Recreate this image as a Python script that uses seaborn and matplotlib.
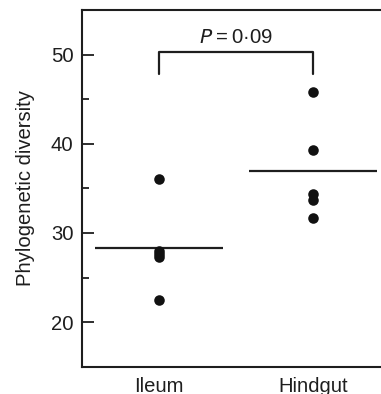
import pandas as pd
import seaborn as sns
import matplotlib.pyplot as plt
from matplotlib.ticker import MultipleLocator

# values
groups = ['Ileum', 'Hindgut']
ileum = [36.1, 28.0, 27.6, 27.3, 22.5]
hindgut = [45.8, 39.3, 34.4, 33.7, 31.7]
p_label = '0·09'
y_ticks = [20, 30, 40, 50]

df = pd.DataFrame({
    'site': [groups[0]] * len(ileum) + [groups[1]] * len(hindgut),
    'pd': ileum + hindgut,
})

sns.set_style('ticks')
plt.rcParams['font.family'] = ['Liberation Sans', 'DejaVu Sans']
ink = '#1e1e1e'
fs = 14.6

fig = plt.figure(figsize=(3.81, 3.94), dpi=100)
ax = fig.add_axes([0.2144, 0.0693, 0.81, 0.9053])

sns.stripplot(data=df, x='site', y='pd', order=groups, jitter=False,
              color='#111111', size=7.6, ax=ax)
# group means as horizontal bars
sns.pointplot(data=df, x='site', y='pd', order=groups, estimator='mean',
              errorbar=None, linestyles='none', markers='_', color=ink,
              markersize=92, markeredgewidth=1.6, ax=ax)

ax.set_xlim(-0.5, 1.5)
ax.set_ylim(15, 55)
ax.set_yticks(y_ticks)
ax.yaxis.set_minor_locator(MultipleLocator(5))
ax.tick_params(axis='y', which='major', direction='in', length=8.5, width=1.3,
               color=ink, labelsize=fs, labelcolor=ink, pad=6)
ax.tick_params(axis='y', which='minor', direction='in', length=4.8, width=1.3, color=ink)
ax.tick_params(axis='x', length=0, labelsize=fs, labelcolor=ink, pad=7.5)
ax.set_xlabel('')
ax.set_ylabel('Phylogenetic diversity', fontsize=fs, color=ink, labelpad=11)
for s in ax.spines.values():
    s.set_linewidth(1.5)
    s.set_color(ink)
ax.spines['right'].set_visible(False)

# significance bracket
ax.plot([0, 0, 1, 1], [47.8, 50.3, 50.3, 47.8], color=ink, lw=1.6)
ax.text(0.5, 50.9, r'$\it{P}$' + '\u2009=\u2009' + p_label, ha='center', va='bottom',
        fontsize=fs, color=ink)

fig.savefig('out.png', dpi=100)
